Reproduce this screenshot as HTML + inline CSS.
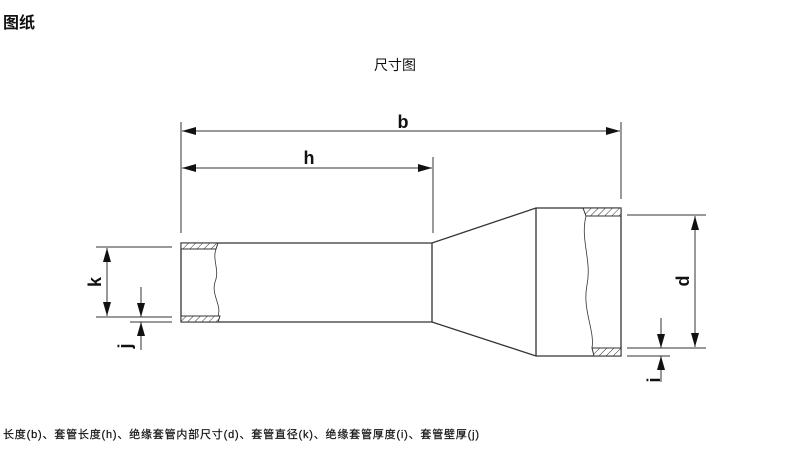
<!DOCTYPE html>
<html><head><meta charset="utf-8"><style>
html,body{margin:0;padding:0;background:#fff;width:790px;height:449px;overflow:hidden}
svg{display:block}
text{font-family:"Liberation Sans","Noto Sans CJK SC",sans-serif;fill:#111}
</style></head><body>
<svg width="790" height="449" viewBox="0 0 790 449" xmlns="http://www.w3.org/2000/svg">
<defs>
<pattern id="h" width="5" height="5" patternUnits="userSpaceOnUse" patternTransform="rotate(45)">
<rect width="5" height="5" fill="#fff"/><line x1="0" y1="0" x2="0" y2="5" stroke="#333" stroke-width="1"/>
</pattern>
<marker id="a" viewBox="0 0 14 8" refX="14" refY="4" markerWidth="14" markerHeight="8" markerUnits="userSpaceOnUse" orient="auto-start-reverse"><path d="M0,0L14,4L0,8z" fill="#111"/></marker>
</defs>
<text x="3" y="28" font-size="16" font-weight="bold">图纸</text>
<text x="374" y="70" font-size="14">尺寸图</text>
<text x="3" y="438" font-size="11" textLength="476" stroke="#111" stroke-width="0.2">长度(b)、套管长度(h)、绝缘套管内部尺寸(d)、套管直径(k)、绝缘套管厚度(i)、套管壁厚(j)</text>
<g stroke="#333" stroke-width="1.3" fill="none">
<path d="M181,243H432L536,208H621V356H536L432,322H181Z" fill="#fff"/>
<line x1="432" y1="243" x2="432" y2="322"/>
<line x1="536" y1="208" x2="536" y2="356"/>
</g>
<g stroke="#333" stroke-width="1">
<path d="M181,243H218L216,249H181Z" fill="url(#h)"/>
<path d="M181,316H220L218,322H181Z" fill="url(#h)"/>
<path d="M583,208H621V216H586Z" fill="url(#h)"/>
<path d="M592,348H621V356H594Z" fill="url(#h)"/>
<path d="M216,249C212,260 220,270 215,282C211,295 222,305 218,316" fill="none" stroke-width="0.8"/>
<path d="M586,216C580,240 592,260 587,285C582,310 595,330 592,348" fill="none" stroke-width="0.8"/>
</g>
<g stroke="#333" stroke-width="1" fill="none">
<line x1="181" y1="122" x2="181" y2="233"/>
<line x1="621" y1="122" x2="621" y2="199"/>
<line x1="433" y1="157" x2="433" y2="233"/>
<line x1="182" y1="131" x2="620" y2="131" marker-start="url(#a)" marker-end="url(#a)"/>
<line x1="182" y1="168" x2="432" y2="168" marker-start="url(#a)" marker-end="url(#a)"/>
<line x1="96" y1="247" x2="172" y2="247"/>
<line x1="96" y1="317" x2="172" y2="317"/>
<line x1="130" y1="322" x2="172" y2="322"/>
<line x1="107" y1="248" x2="107" y2="316" marker-start="url(#a)" marker-end="url(#a)"/>
<line x1="141" y1="287" x2="141" y2="317" marker-end="url(#a)"/>
<line x1="141" y1="350" x2="141" y2="322" marker-end="url(#a)"/>
<line x1="627" y1="215" x2="706" y2="215"/>
<line x1="627" y1="348" x2="706" y2="348"/>
<line x1="627" y1="356" x2="670" y2="356"/>
<line x1="695" y1="216" x2="695" y2="347" marker-start="url(#a)" marker-end="url(#a)"/>
<line x1="661" y1="318" x2="661" y2="348" marker-end="url(#a)"/>
<line x1="661" y1="382" x2="661" y2="356" marker-end="url(#a)"/>
</g>
<text x="403" y="128" font-size="18" font-weight="bold" text-anchor="middle">b</text>
<text x="309" y="164" font-size="18" font-weight="bold" text-anchor="middle">h</text>
<text transform="translate(101,282) rotate(-90)" font-size="18" font-weight="bold" text-anchor="middle">k</text>
<text transform="translate(131,346) rotate(-90)" font-size="18" font-weight="bold" text-anchor="middle">j</text>
<text transform="translate(689,281) rotate(-90)" font-size="18" font-weight="bold" text-anchor="middle">d</text>
<text transform="translate(660,380) rotate(-90)" font-size="18" font-weight="bold" text-anchor="middle">i</text>
</svg>
</body></html>
